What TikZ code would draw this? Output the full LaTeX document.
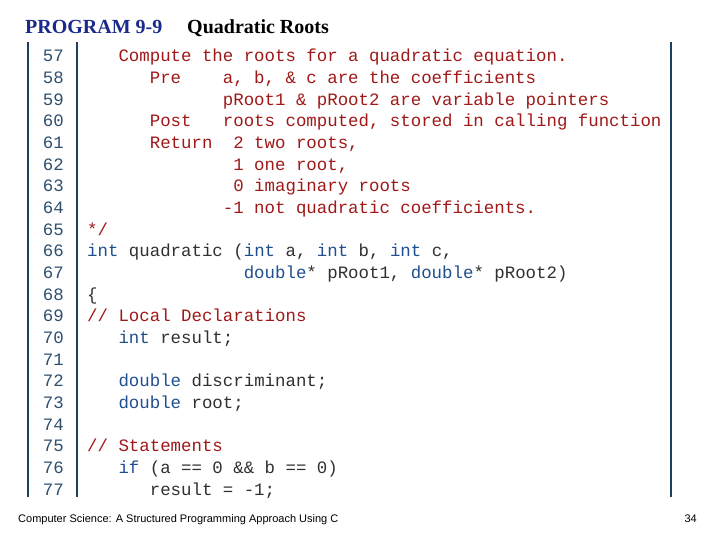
\documentclass[tikz,border=0pt]{standalone}
\usepackage{fontspec}
\setmainfont{Liberation Serif}
\setsansfont{Liberation Sans}
\setmonofont{Liberation Mono}
\definecolor{cmt}{HTML}{A01818}
\definecolor{kw}{HTML}{1F4F8F}
\definecolor{idf}{HTML}{303030}
\definecolor{num}{HTML}{2F4F6F}
\definecolor{navy}{HTML}{1A2A8A}
\definecolor{rule}{HTML}{1F3F5F}
\newcommand{\sk}[1]{\hspace*{#1\dimexpr 0.6em\relax}}
\newcommand{\kw}[1]{\textcolor{kw}{#1}}
\begin{document}
\begin{tikzpicture}[x=1pt,y=-1pt,
  code/.style={anchor=base west,inner sep=0pt,font=\fontsize{17.4}{20}\ttfamily,text=idf},
  lnum/.style={anchor=base east,inner sep=0pt,font=\fontsize{17.4}{20}\ttfamily,text=num},
  vrule/.style={draw=rule,line width=1.1pt}]
\useasboundingbox (0,0) rectangle (720,540);
\node[anchor=base west,inner sep=0pt,font=\fontsize{20}{22}\selectfont\bfseries,text=navy] (t1) at (25,34) {PROGRAM 9-9};
\node[anchor=base west,inner sep=0pt,font=\fontsize{20}{22}\selectfont\bfseries] (t2) at (187,34) {Quadratic Roots};
\coordinate (a1) at (28,42); \coordinate (a2) at (28,497);
\coordinate (b1) at (77,42); \coordinate (b2) at (77,497);
\coordinate (c1) at (671,42); \coordinate (c2) at (671,497);
\draw[vrule] (a1) -- (a2);
\draw[vrule] (b1) -- (b2);
\draw[vrule] (c1) -- (c2);
\foreach \n [count=\i from 0] in {57,...,77}
  \node[lnum] (n\n) at (64,62+21.65*\i) {\n};
\def\L#1{62+21.65*#1}
\node[code,text=cmt] (l57) at (87,\L{0}) {\sk{3}Compute the roots for a quadratic equation.};
\node[code,text=cmt] (l58) at (87,\L{1}) {\sk{6}Pre\sk{4}a, b, \& c are the coefficients};
\node[code,text=cmt] (l59) at (87,\L{2}) {\sk{13}pRoot1 \& pRoot2 are variable pointers};
\node[code,text=cmt] (l60) at (87,\L{3}) {\sk{6}Post\sk{3}roots computed, stored in calling function};
\node[code,text=cmt] (l61) at (87,\L{4}) {\sk{6}Return\sk{2}2 two roots,};
\node[code,text=cmt] (l62) at (87,\L{5}) {\sk{14}1 one root,};
\node[code,text=cmt] (l63) at (87,\L{6}) {\sk{14}0 imaginary roots};
\node[code,text=cmt] (l64) at (87,\L{7}) {\sk{13}-1 not quadratic coefficients.};
\node[code,text=cmt] (l65) at (87,\L{8}) {*/};
\node[code] (l66) at (87,\L{9}) {\kw{int} quadratic (\kw{int} a, \kw{int} b, \kw{int} c,};
\node[code] (l67) at (87,\L{10}) {\sk{15}\kw{double}* pRoot1, \kw{double}* pRoot2)};
\node[code] (l68) at (87,\L{11}) {\{};
\node[code,text=cmt] (l69) at (87,\L{12}) {// Local Declarations};
\node[code] (l70) at (87,\L{13}) {\sk{3}\kw{int} result;};
\node[code] (l72) at (87,\L{15}) {\sk{3}\kw{double} discriminant;};
\node[code] (l73) at (87,\L{16}) {\sk{3}\kw{double} root;};
\node[code,text=cmt] (l75) at (87,\L{18}) {// Statements};
\node[code] (l76) at (87,\L{19}) {\sk{3}\kw{if} (a == 0 \&\& b == 0)};
\node[code] (l77) at (87,\L{20}) {\sk{6}result = -1;};
\node[anchor=base west,inner sep=0pt,font=\fontsize{11}{13}\sffamily] (f1) at (18,522) {Computer Science: A Structured Programming Approach Using C};
\node[anchor=base east,inner sep=0pt,font=\fontsize{11}{13}\sffamily] (f2) at (697,522) {34};
\end{tikzpicture}
\end{document}
